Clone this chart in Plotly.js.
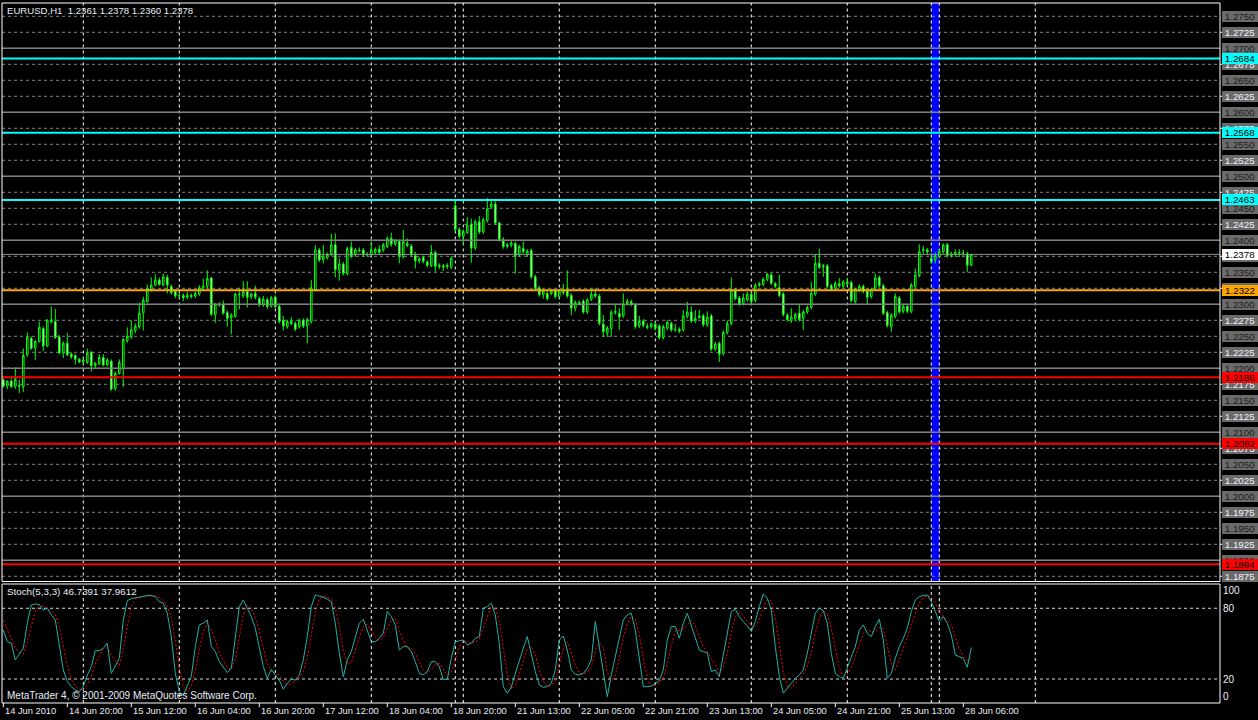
<!DOCTYPE html>
<html><head><meta charset="utf-8">
<script src="https://cdn.plot.ly/plotly-3.0.1.min.js"></script>
<style>html,body{margin:0;padding:0;background:#000;overflow:hidden}#chart{width:1258px;height:720px}</style>
</head><body><div id="chart"></div>
<script>
const chartTitle = "EURUSD,H1\u00a0\u00a01.2361 1.2378 1.2360 1.2378";
const stochTitle = "Stoch(5,3,3) 46.7391 37.9612";
const copyrightText = "MetaTrader 4, \u00a9 2001-2009 MetaQuotes Software Corp.";

const barOpen = [1.2182,1.2172,1.2180,1.2172,1.2173,1.2171,1.2221,1.2247,1.2232,1.2242,
1.2262,1.2235,1.2273,1.2273,1.2249,1.2224,1.2239,1.2222,1.2220,1.2214,
1.2210,1.2209,1.2225,1.2204,1.2207,1.2217,1.2205,1.2211,1.2168,1.2192,
1.2199,1.2243,1.2249,1.2259,1.2265,1.2287,1.2304,1.2323,1.2330,1.2338,
1.2330,1.2342,1.2328,1.2321,1.2314,1.2314,1.2311,1.2314,1.2313,1.2316,
1.2326,1.2328,1.2341,1.2284,1.2300,1.2300,1.2287,1.2279,1.2281,1.2316,
1.2313,1.2320,1.2312,1.2317,1.2309,1.2299,1.2307,1.2297,1.2311,1.2297,
1.2275,1.2265,1.2273,1.2270,1.2265,1.2275,1.2266,1.2273,1.2323,1.2385,
1.2370,1.2373,1.2378,1.2393,1.2353,1.2363,1.2348,1.2389,1.2377,1.2385,
1.2385,1.2377,1.2377,1.2381,1.2386,1.2385,1.2390,1.2403,1.2394,1.2398,
1.2374,1.2395,1.2391,1.2376,1.2368,1.2373,1.2366,1.2360,1.2381,1.2359,
1.2360,1.2359,1.2358,1.2454,1.2417,1.2406,1.2412,1.2425,1.2388,1.2429,
1.2413,1.2431,1.2452,1.2457,1.2427,1.2401,1.2390,1.2393,1.2395,1.2377,
1.2387,1.2377,1.2384,1.2343,1.2326,1.2315,1.2317,1.2317,1.2321,1.2312,
1.2320,1.2321,1.2314,1.2294,1.2303,1.2305,1.2288,1.2308,1.2316,1.2313,
1.2269,1.2255,1.2262,1.2287,1.2286,1.2282,1.2301,1.2304,1.2300,1.2266,
1.2274,1.2266,1.2265,1.2269,1.2266,1.2248,1.2263,1.2270,1.2260,1.2261,
1.2260,1.2281,1.2288,1.2274,1.2279,1.2282,1.2268,1.2282,1.2230,1.2239,
1.2223,1.2256,1.2270,1.2322,1.2310,1.2301,1.2307,1.2316,1.2306,1.2330,
1.2331,1.2339,1.2346,1.2332,1.2326,1.2316,1.2283,1.2274,1.2278,1.2286,
1.2278,1.2288,1.2295,1.2316,1.2364,1.2358,1.2360,1.2329,1.2325,1.2332,
1.2328,1.2335,1.2334,1.2304,1.2322,1.2328,1.2321,1.2312,1.2325,1.2342,
1.2329,1.2287,1.2265,1.2281,1.2310,1.2289,1.2297,1.2289,1.2328,1.2345,
1.2384,1.2385,1.2372,1.2370,1.2375,1.2382,1.2393,1.2376,1.2378,1.2381,
1.2380,1.2379,1.2361];

const barHigh = [1.2184,1.2181,1.2184,1.2201,1.2182,1.2231,1.2256,1.2250,1.2244,1.2273,
1.2265,1.2277,1.2297,1.2293,1.2252,1.2242,1.2255,1.2225,1.2222,1.2216,
1.2215,1.2231,1.2227,1.2210,1.2222,1.2222,1.2216,1.2214,1.2195,1.2214,
1.2247,1.2264,1.2275,1.2270,1.2303,1.2312,1.2331,1.2342,1.2347,1.2342,
1.2348,1.2346,1.2331,1.2323,1.2317,1.2317,1.2320,1.2317,1.2320,1.2330,
1.2340,1.2353,1.2343,1.2302,1.2303,1.2306,1.2290,1.2286,1.2318,1.2326,
1.2336,1.2336,1.2318,1.2329,1.2312,1.2313,1.2310,1.2313,1.2314,1.2300,
1.2282,1.2276,1.2280,1.2273,1.2278,1.2278,1.2279,1.2338,1.2393,1.2388,
1.2393,1.2381,1.2410,1.2411,1.2372,1.2366,1.2390,1.2398,1.2388,1.2389,
1.2388,1.2381,1.2398,1.2389,1.2392,1.2396,1.2406,1.2412,1.2402,1.2401,
1.2416,1.2403,1.2394,1.2382,1.2374,1.2376,1.2369,1.2393,1.2384,1.2364,
1.2363,1.2364,1.2375,1.2462,1.2420,1.2417,1.2436,1.2434,1.2432,1.2438,
1.2435,1.2466,1.2463,1.2461,1.2429,1.2405,1.2396,1.2399,1.2398,1.2393,
1.2398,1.2386,1.2387,1.2346,1.2329,1.2324,1.2320,1.2324,1.2324,1.2324,
1.2332,1.2353,1.2317,1.2306,1.2306,1.2308,1.2310,1.2325,1.2325,1.2316,
1.2283,1.2266,1.2291,1.2300,1.2294,1.2317,1.2309,1.2307,1.2302,1.2282,
1.2277,1.2270,1.2272,1.2273,1.2269,1.2268,1.2275,1.2273,1.2269,1.2264,
1.2291,1.2304,1.2297,1.2291,1.2291,1.2285,1.2289,1.2285,1.2241,1.2242,
1.2259,1.2275,1.2342,1.2325,1.2313,1.2317,1.2319,1.2319,1.2333,1.2335,
1.2342,1.2349,1.2349,1.2335,1.2346,1.2319,1.2286,1.2294,1.2287,1.2300,
1.2291,1.2298,1.2335,1.2378,1.2387,1.2363,1.2363,1.2332,1.2336,1.2341,
1.2338,1.2341,1.2337,1.2326,1.2331,1.2331,1.2324,1.2326,1.2348,1.2345,
1.2332,1.2290,1.2286,1.2317,1.2313,1.2300,1.2299,1.2333,1.2356,1.2394,
1.2391,1.2388,1.2380,1.2381,1.2386,1.2395,1.2396,1.2382,1.2386,1.2386,
1.2385,1.2382,1.2378];

const barLow = [1.2170,1.2167,1.2170,1.2168,1.2161,1.2163,1.2218,1.2229,1.2213,1.2240,
1.2227,1.2233,1.2270,1.2246,1.2222,1.2216,1.2219,1.2215,1.2206,1.2208,
1.2207,1.2207,1.2195,1.2200,1.2205,1.2203,1.2203,1.2165,1.2165,1.2190,
1.2171,1.2240,1.2246,1.2255,1.2262,1.2259,1.2302,1.2320,1.2328,1.2329,
1.2328,1.2317,1.2315,1.2310,1.2310,1.2305,1.2308,1.2309,1.2310,1.2313,
1.2322,1.2325,1.2282,1.2271,1.2296,1.2284,1.2265,1.2253,1.2279,1.2292,
1.2310,1.2295,1.2308,1.2308,1.2296,1.2296,1.2293,1.2295,1.2294,1.2270,
1.2259,1.2262,1.2267,1.2258,1.2262,1.2263,1.2239,1.2270,1.2320,1.2366,
1.2364,1.2370,1.2375,1.2342,1.2337,1.2345,1.2345,1.2372,1.2374,1.2381,
1.2374,1.2374,1.2374,1.2378,1.2378,1.2382,1.2388,1.2390,1.2391,1.2364,
1.2372,1.2389,1.2374,1.2356,1.2364,1.2364,1.2358,1.2358,1.2351,1.2355,
1.2352,1.2355,1.2355,1.2414,1.2403,1.2393,1.2410,1.2365,1.2385,1.2410,
1.2410,1.2428,1.2449,1.2424,1.2398,1.2387,1.2387,1.2389,1.2348,1.2374,
1.2379,1.2374,1.2340,1.2322,1.2312,1.2309,1.2306,1.2314,1.2309,1.2309,
1.2315,1.2310,1.2283,1.2289,1.2298,1.2285,1.2285,1.2305,1.2310,1.2267,
1.2249,1.2249,1.2249,1.2284,1.2260,1.2279,1.2298,1.2297,1.2262,1.2263,
1.2264,1.2261,1.2262,1.2259,1.2245,1.2245,1.2260,1.2257,1.2257,1.2255,
1.2257,1.2278,1.2271,1.2271,1.2277,1.2265,1.2265,1.2227,1.2227,1.2210,
1.2220,1.2253,1.2267,1.2306,1.2297,1.2298,1.2304,1.2301,1.2303,1.2327,
1.2328,1.2336,1.2330,1.2325,1.2311,1.2281,1.2273,1.2271,1.2275,1.2273,
1.2260,1.2285,1.2292,1.2313,1.2355,1.2343,1.2325,1.2321,1.2322,1.2326,
1.2325,1.2329,1.2303,1.2301,1.2319,1.2317,1.2300,1.2309,1.2322,1.2326,
1.2283,1.2264,1.2257,1.2278,1.2285,1.2286,1.2286,1.2286,1.2325,1.2342,
1.2379,1.2377,1.2364,1.2364,1.2372,1.2379,1.2373,1.2373,1.2374,1.2374,
1.2374,1.2350,1.2360];

const barClose = [1.2172,1.2180,1.2171,1.2183,1.2172,1.2220,1.2248,1.2231,1.2242,1.2264,
1.2235,1.2275,1.2276,1.2248,1.2224,1.2239,1.2221,1.2218,1.2214,1.2210,
1.2213,1.2223,1.2204,1.2208,1.2217,1.2205,1.2213,1.2167,1.2192,1.2209,
1.2245,1.2250,1.2260,1.2266,1.2286,1.2307,1.2325,1.2330,1.2338,1.2331,
1.2343,1.2330,1.2318,1.2313,1.2314,1.2310,1.2314,1.2312,1.2317,1.2326,
1.2328,1.2340,1.2284,1.2300,1.2299,1.2286,1.2278,1.2283,1.2316,1.2315,
1.2320,1.2311,1.2316,1.2311,1.2299,1.2308,1.2296,1.2310,1.2296,1.2273,
1.2266,1.2273,1.2270,1.2261,1.2275,1.2266,1.2276,1.2326,1.2385,1.2369,
1.2375,1.2378,1.2393,1.2354,1.2363,1.2348,1.2387,1.2375,1.2385,1.2384,
1.2377,1.2378,1.2385,1.2386,1.2381,1.2393,1.2403,1.2394,1.2399,1.2375,
1.2398,1.2392,1.2377,1.2368,1.2371,1.2367,1.2361,1.2381,1.2359,1.2361,
1.2358,1.2361,1.2372,1.2417,1.2406,1.2414,1.2424,1.2388,1.2429,1.2413,
1.2432,1.2449,1.2457,1.2427,1.2401,1.2390,1.2393,1.2396,1.2375,1.2390,
1.2382,1.2383,1.2343,1.2325,1.2315,1.2321,1.2309,1.2321,1.2312,1.2321,
1.2318,1.2313,1.2294,1.2303,1.2301,1.2288,1.2307,1.2316,1.2313,1.2270,
1.2257,1.2263,1.2287,1.2289,1.2280,1.2300,1.2305,1.2300,1.2265,1.2273,
1.2267,1.2264,1.2269,1.2262,1.2248,1.2265,1.2272,1.2260,1.2261,1.2258,
1.2282,1.2288,1.2274,1.2278,1.2282,1.2268,1.2280,1.2230,1.2238,1.2222,
1.2256,1.2270,1.2322,1.2309,1.2300,1.2310,1.2316,1.2304,1.2330,1.2332,
1.2339,1.2347,1.2333,1.2328,1.2314,1.2284,1.2276,1.2280,1.2284,1.2276,
1.2288,1.2295,1.2317,1.2364,1.2358,1.2360,1.2328,1.2324,1.2333,1.2329,
1.2335,1.2332,1.2306,1.2323,1.2328,1.2320,1.2311,1.2323,1.2341,1.2329,
1.2286,1.2267,1.2283,1.2312,1.2288,1.2297,1.2289,1.2330,1.2346,1.2382,
1.2386,1.2382,1.2366,1.2376,1.2383,1.2393,1.2376,1.2379,1.2381,1.2380,
1.2380,1.2361,1.2378];

const stochMain = [61.6,51.7,50.3,36.2,41.3,46.1,67.3,82.9,83.7,82.9,
78.6,80.0,74.4,70.1,48.9,27.7,17.8,13.5,10.7,9.3,
13.5,23.4,30.5,44.1,44.1,46.1,50.3,24.8,31.1,37.6,
70.1,86.5,88.2,88.8,89.9,90.5,90.8,90.8,89.9,85.7,
84.3,75.8,56.0,24.8,9.3,6.4,13.5,22.0,47.5,65.9,
67.3,70.1,47.5,43.2,34.7,30.0,25.4,29.1,56.0,81.4,
87.1,80.0,72.9,63.0,46.1,30.5,20.6,28.2,23.4,19.2,
11.3,16.4,19.7,19.2,23.4,36.2,56.0,81.4,91.3,90.5,
89.4,87.7,85.7,67.3,41.8,22.0,36.2,43.2,56.0,67.3,
70.7,61.6,51.7,51.7,54.5,58.8,77.2,72.9,65.9,44.6,
47.5,47.5,43.2,34.7,24.8,23.7,26.3,34.7,34.7,30.5,
19.7,19.7,37.6,51.7,52.6,53.1,48.9,50.3,54.5,56.0,
80.0,81.4,84.3,74.4,50.3,13.5,7.9,13.0,24.8,36.2,
46.1,56.0,40.4,26.3,15.0,13.0,13.5,16.4,27.7,53.1,
56.5,44.6,27.7,24.0,23.4,24.8,29.1,36.2,68.7,47.5,
24.8,5.0,23.4,39.0,56.0,70.1,74.4,75.8,61.6,36.2,
13.5,13.5,14.1,16.4,18.6,27.7,53.1,64.5,64.5,54.5,
67.3,75.8,65.9,54.5,44.6,43.2,42.4,26.3,27.7,22.0,
40.4,61.6,77.2,79.2,72.9,68.7,65.0,60.2,68.7,81.4,
92.2,88.5,78.6,47.5,22.0,7.9,12.1,16.4,20.6,23.4,
27.7,41.8,58.8,75.8,80.0,78.0,67.3,41.8,24.8,22.0,
20.6,30.0,37.6,47.5,61.6,65.9,58.8,56.0,64.5,70.7,
53.1,20.6,24.8,37.6,47.5,54.5,63.0,77.2,87.1,89.9,
90.8,91.3,85.7,77.2,68.7,72.9,67.3,57.4,40.4,39.0,
37.6,30.0,46.7];

const stochSignal = [70,62,54.5,46.1,42.6,41.2,51.6,65.4,78.0,83.2,
81.7,80.5,77.7,74.8,64.5,48.9,31.5,19.7,14.0,11.2,
11.2,15.4,22.5,32.7,39.6,44.8,46.8,40.4,35.4,31.2,
46.3,64.7,81.6,87.8,89.0,89.7,90.4,90.7,90.5,88.8,
86.6,81.9,72.0,52.2,30.0,13.5,9.7,14.0,27.7,45.1,
60.2,67.8,61.6,53.6,41.8,36.0,30.0,28.2,36.8,55.5,
74.8,82.8,80.0,72.0,60.7,46.5,32.4,26.4,24.1,23.6,
18.0,15.6,15.8,18.4,20.8,26.3,38.5,57.9,76.2,87.7,
90.4,89.2,87.6,80.2,64.9,43.7,33.3,33.8,45.1,55.5,
64.7,66.5,61.3,55.0,52.6,55.0,63.5,69.6,72.0,61.1,
52.7,46.5,46.1,41.8,34.2,27.7,24.9,28.2,31.9,33.3,
28.3,23.3,25.7,36.3,47.3,52.5,51.5,50.8,51.2,53.6,
63.5,72.5,81.9,80.0,69.7,46.1,23.9,11.5,15.2,24.7,
35.7,46.1,47.5,40.9,27.2,18.1,13.8,14.3,19.2,32.4,
45.8,51.4,42.9,32.1,25.0,24.1,25.8,30.0,44.7,50.8,
47.0,25.8,17.7,22.5,39.5,55.0,66.8,73.4,70.6,57.9,
37.1,21.1,13.7,14.7,16.4,20.9,33.1,48.4,60.7,61.2,
62.1,65.9,69.7,65.4,55.0,47.4,43.4,37.3,32.1,25.3,
30.0,41.3,59.7,72.7,76.4,73.6,68.9,64.6,64.6,70.1,
80.8,87.4,86.4,71.5,49.4,25.8,14.0,12.1,16.4,20.1,
23.9,31.0,42.8,58.8,71.5,77.9,75.1,62.4,44.6,29.5,
22.5,24.2,29.4,38.4,48.9,58.3,62.1,60.2,59.8,63.7,
62.8,48.1,32.8,27.7,36.6,46.5,55.0,64.9,75.8,84.7,
89.3,90.7,89.3,84.7,77.2,72.9,69.6,65.9,55.0,45.6,
39.0,35.5,38.0];

const timeLabels = ["14 Jun 2010","14 Jun 20:00","15 Jun 12:00","16 Jun 04:00","16 Jun 20:00","17 Jun 12:00","18 Jun 04:00","18 Jun 20:00","21 Jun 13:00","22 Jun 05:00","22 Jun 21:00","23 Jun 13:00","24 Jun 05:00","24 Jun 21:00","25 Jun 13:00","28 Jun 06:00"];
const timeLabelBars = [0,16,32,48,64,80,96,112,128,144,160,176,192,208,224,240];
const separatorBars = [20,44,68,92,113,115,139,163,187,211,232,234,258];
const weekendBand = [232,234];

const priceLevels = [1.1875,1.1900,1.1925,1.1950,1.1975,1.2000,1.2025,1.2050,1.2075,1.2100,1.2125,1.2150,1.2175,1.2200,1.2225,1.2250,1.2275,1.2300,1.2325,1.2350,1.2375,1.2400,1.2425,1.2450,1.2475,1.2500,1.2525,1.2550,1.2575,1.2600,1.2625,1.2650,1.2675,1.2700,1.2725,1.2750];
const roundLevels = [1.1900,1.2000,1.2100,1.2200,1.2300,1.2400,1.2500,1.2600,1.2700];
const cyanLevels = [1.2684,1.2568,1.2463];
const orangeLevels = [1.2322];
const redLevels = [1.2186,1.2082,1.1894];
const bidPrice = 1.2378;
const stochLevels = [100,80,20,0];
const stochDashLevels = [80,20];

const FONT = '"Liberation Sans", Arial, sans-serif';
const barIndex = barOpen.map((_, i) => i);
const MAIN_DOM = [0.17357, 1];
const STO_DOM = [0, 0.17];

const traces = [
  {type:'candlestick', x:barIndex, open:barOpen, high:barHigh, low:barLow, close:barClose,
   xaxis:'x', yaxis:'y', whiskerwidth:0, hoverinfo:'skip',
   increasing:{line:{color:'#00ff00', width:1}, fillcolor:'#000000'},
   decreasing:{line:{color:'#00ff00', width:1}, fillcolor:'#ffffff'}},
  {type:'scatter', mode:'lines', x:barIndex, y:stochSignal, xaxis:'x', yaxis:'y2',
   line:{color:'#ff0000', width:1, dash:'2px,2px'}, hoverinfo:'skip'},
  {type:'scatter', mode:'lines', x:barIndex, y:stochMain, xaxis:'x', yaxis:'y2',
   line:{color:'#20b2aa', width:1}, hoverinfo:'skip'}
];

const shapes = [];
shapes.push({type:'rect', xref:'x', yref:'paper', x0:weekendBand[0], x1:weekendBand[1], y0:MAIN_DOM[0], y1:1,
  fillcolor:'#0000ff', line:{width:0}, layer:'below'});
priceLevels.forEach(p => shapes.push({type:'line', xref:'paper', yref:'y', x0:0, x1:1, y0:p, y1:p,
  line:{color:'#808080', width:1, dash:'3px,3px'}, layer:'below'}));
stochDashLevels.forEach(v => shapes.push({type:'line', xref:'paper', yref:'y2', x0:0, x1:1, y0:v, y1:v,
  line:{color:'#d8d8d8', width:1, dash:'3px,3px'}, layer:'below'}));
separatorBars.forEach(b => {
  shapes.push({type:'line', xref:'x', yref:'paper', x0:b, x1:b, y0:MAIN_DOM[0], y1:1,
    line:{color:'#ffffff', width:1, dash:'3px,3px'}, layer:'below'});
  shapes.push({type:'line', xref:'x', yref:'paper', x0:b, x1:b, y0:STO_DOM[0], y1:STO_DOM[1],
    line:{color:'#ffffff', width:1, dash:'3px,3px'}, layer:'below'});
});
roundLevels.forEach(p => shapes.push({type:'line', xref:'paper', yref:'y', x0:0, x1:1, y0:p, y1:p,
  line:{color:'#808080', width:1.5}, layer:'above'}));
shapes.push({type:'line', xref:'paper', yref:'y', x0:0, x1:1, y0:bidPrice, y1:bidPrice,
  line:{color:'#909090', width:1}, layer:'above'});
cyanLevels.forEach(p => shapes.push({type:'line', xref:'paper', yref:'y', x0:0, x1:1, y0:p, y1:p,
  line:{color:'#00ffff', width:2}, layer:'above'}));
orangeLevels.forEach(p => shapes.push({type:'line', xref:'paper', yref:'y', x0:0, x1:1, y0:p, y1:p,
  line:{color:'#ffa500', width:2}, layer:'above'}));
redLevels.forEach(p => shapes.push({type:'line', xref:'paper', yref:'y', x0:0, x1:1, y0:p, y1:p,
  line:{color:'#ff0000', width:2}, layer:'above'}));
shapes.push({type:'rect', xref:'paper', yref:'paper', x0:0, x1:1, y0:MAIN_DOM[0], y1:MAIN_DOM[1],
  line:{color:'#ffffff', width:1}, fillcolor:'rgba(0,0,0,0)', layer:'above'});
shapes.push({type:'rect', xref:'paper', yref:'paper', x0:0, x1:1, y0:STO_DOM[0], y1:STO_DOM[1],
  line:{color:'#ffffff', width:1}, fillcolor:'rgba(0,0,0,0)', layer:'above'});
timeLabelBars.forEach(b => shapes.push({type:'line', xref:'x', yref:'paper', x0:b, x1:b, y0:0, y1:-0.006,
  line:{color:'#ffffff', width:1}}));
const isMajor = p => Math.round(p * 10000) % 50 === 0;
priceLevels.filter(p => !isMajor(p)).forEach(p => shapes.push({type:'line', xref:'paper', yref:'y',
  x0:1, x1:1.0028, y0:p, y1:p, line:{color:'#ffffff', width:1}}));

const annotations = [];
const txt = (o, size) => Object.assign({showarrow:false, font:{family:FONT, size:size || 10, color:'#e8eef8'}, borderpad:0, borderwidth:0}, o);
annotations.push(txt({xref:'paper', yref:'paper', x:0, y:1, xanchor:'left', yanchor:'top', xshift:5, yshift:-2, text:chartTitle}, 9.6));
annotations.push(txt({xref:'paper', yref:'paper', x:0, y:STO_DOM[1], xanchor:'left', yanchor:'top', xshift:5, yshift:-2, text:stochTitle}, 9.8));
annotations.push(txt({xref:'paper', yref:'paper', x:0, y:0, xanchor:'left', yanchor:'bottom', xshift:5, yshift:2, text:copyrightText}, 10));
timeLabels.forEach((t, i) => annotations.push(txt({xref:'x', yref:'paper', x:timeLabelBars[i], y:0,
  xanchor:'left', yanchor:'top', xshift:2, yshift:-3, text:t}, 9.3)));
function priceLabel(p, bg, fg) {
  return {xref:'paper', yref:'y', x:1, y:p, xanchor:'left', yanchor:'middle', xshift:1.5,
    text:p.toFixed(4), showarrow:false, bgcolor:bg, width:36, height:11, borderpad:0, borderwidth:0,
    font:{family:FONT, size:9.8, color:fg}};
}
priceLevels.forEach(p => annotations.push(priceLabel(p, '#6a6a6a', isMajor(p) ? '#1a1a1a' : '#eef4ff')));
cyanLevels.forEach(p => annotations.push(priceLabel(p, '#00ffff', '#000000')));
orangeLevels.forEach(p => annotations.push(priceLabel(p, '#ffa500', '#000000')));
redLevels.forEach(p => annotations.push(priceLabel(p, '#ff0000', '#000000')));
annotations.push(priceLabel(bidPrice, '#ffffff', '#000000'));
stochLevels.forEach(v => annotations.push(txt({xref:'paper', yref:'y2', x:1, y:v, xanchor:'left', yanchor:'middle',
  xshift:3, yshift: v === 100 ? -6 : (v === 0 ? 6 : 0), text:String(v)}, 10)));

const layout = {
  width:1258, height:720, paper_bgcolor:'#000000', plot_bgcolor:'#000000',
  margin:{l:2, r:38, t:3, b:17}, showlegend:false, boxgap:0.45,
  xaxis:{range:[-0.325, 304.175], anchor:'y2', showgrid:false, zeroline:false, showticklabels:false,
    ticks:'', showline:false, rangeslider:{visible:false}, fixedrange:true},
  yaxis:{domain:MAIN_DOM, range:[1.186687, 1.277078], showgrid:false, zeroline:false, showticklabels:false,
    ticks:'', fixedrange:true},
  yaxis2:{domain:STO_DOM, range:[-0.34, 100.59], showgrid:false, zeroline:false, showticklabels:false,
    ticks:'', fixedrange:true},
  shapes:shapes, annotations:annotations
};
Plotly.newPlot('chart', traces, layout, {staticPlot:true, displayModeBar:false});
</script></body></html>
